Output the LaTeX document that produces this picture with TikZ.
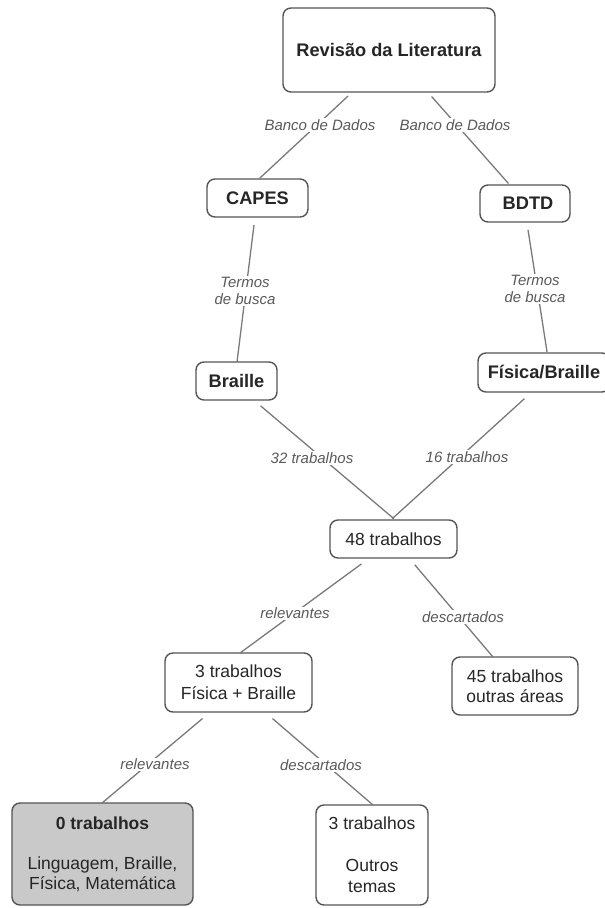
\documentclass[tikz,border=0pt]{standalone}
\usepackage{fontspec}
\setmainfont{Liberation Sans}
\definecolor{bord}{HTML}{555555}
\definecolor{edgec}{HTML}{7A7A7A}
\definecolor{txt}{HTML}{262626}
\definecolor{ltxt}{HTML}{5A5A5A}
\definecolor{shade}{HTML}{C9C9C9}
\tikzset{
  concept/.style={draw=bord, line width=1.4pt, rounded corners=8pt, align=center,
    text=txt, font=\fontsize{17.5}{21}\selectfont, inner sep=0pt, outer sep=0pt},
  boldconcept/.style={concept, font=\fontsize{18.2}{21}\selectfont\bfseries},
  linklabel/.style={fill=white, text=ltxt, font=\fontsize{15}{17.5}\selectfont\itshape,
    align=center, inner sep=1pt},
  conn/.style={draw=edgec, line width=1.3pt},
}
\begin{document}
\begin{tikzpicture}[x=1pt,y=-1pt]
\useasboundingbox[fill=white] (0,0) rectangle (605,908);
% concepts
\node[boldconcept, minimum width=212pt, minimum height=84pt] (top) at (389,50) {Revisão da Literatura};
\node[boldconcept, minimum width=101pt, minimum height=38pt] (capes) at (257.5,198) {CAPES};
\node[boldconcept, minimum width=90pt, minimum height=37pt] (bdtd) at (525,203.5) {\hspace*{6pt}BDTD};
\node[boldconcept, minimum width=81pt, minimum height=38pt] (braille) at (236.5,381) {Braille};
\node[boldconcept, minimum width=132pt, minimum height=39pt] (fisbr) at (544,372.5) {Física/Braille};
\node[concept, minimum width=127pt, minimum height=38pt] (n48) at (393.5,539) {48 trabalhos};
\node[concept, minimum width=147pt, minimum height=59pt, font=\fontsize{17.5}{22}\selectfont] (n3) at (238.5,682.5) {3 trabalhos\\Física + Braille};
\node[concept, minimum width=126pt, minimum height=58pt, font=\fontsize{17.5}{20}\selectfont] (n45) at (515,686) {45 trabalhos\\outras áreas};
\node[concept, fill=shade, minimum width=181pt, minimum height=102pt, font=\fontsize{17.5}{20}\selectfont] (n0) at (102.5,854) {\textbf{0 trabalhos}\\[20pt]Linguagem, Braille,\\Física, Matemática};
\node[concept, minimum width=112pt, minimum height=100pt, font=\fontsize{17.5}{21}\selectfont] (nout) at (372,855) {3 trabalhos\\[21pt]Outros\\temas};
% connectors
\draw[conn, shorten <=6pt, shorten >=1pt] ([xshift=-36.6pt]top.south) -- ([xshift=1.4pt]capes.north);
\draw[conn, shorten <=6pt, shorten >=2pt] ([xshift=38.6pt]top.south) -- ([xshift=-15.2pt]bdtd.north);
\draw[conn, shorten <=8pt, shorten >=0pt] ([xshift=-2.5pt]capes.south) -- ([xshift=0.5pt]braille.north);
\draw[conn, shorten <=8pt, shorten >=1pt] ([xshift=1.8pt]bdtd.south) -- ([xshift=3.2pt]fisbr.north);
\draw[conn, shorten <=9pt, shorten >=2pt] ([xshift=17.2pt]braille.south) -- ([xshift=1.9pt]n48.north);
\draw[conn, shorten <=10pt, shorten >=2pt] ([xshift=-12.2pt]fisbr.south) -- ([xshift=-2.7pt]n48.north);
\draw[conn, shorten <=10pt, shorten >=0pt] ([xshift=-24pt]n48.south) -- ([xshift=1.5pt]n3.north);
\draw[conn, shorten <=9pt, shorten >=0pt] ([xshift=15.5pt]n48.south) -- ([xshift=-22pt]n45.north);
\draw[conn, shorten <=10pt, shorten >=0pt] ([xshift=-28.2pt]n3.south) -- ([xshift=-0.5pt]n0.north);
\draw[conn, shorten <=10pt, shorten >=0pt] ([xshift=26.4pt]n3.south) -- ([xshift=1pt]nout.north);
% link labels
\node[linklabel] (l1) at (320,125) {Banco de Dados};
\node[linklabel] (l2) at (455,125) {Banco de Dados};
\node[linklabel] (l3) at (245,291) {Termos\\de busca};
\node[linklabel] (l4) at (535,289) {Termos\\de busca};
\node[linklabel] (l5) at (312,458) {32 trabalhos};
\node[linklabel] (l6) at (467,457) {16 trabalhos};
\node[linklabel] (l7) at (295,613) {relevantes};
\node[linklabel] (l8) at (463,617) {descartados};
\node[linklabel] (l9) at (155,764) {relevantes};
\node[linklabel] (l10) at (321,765) {descartados};
\end{tikzpicture}
\end{document}
